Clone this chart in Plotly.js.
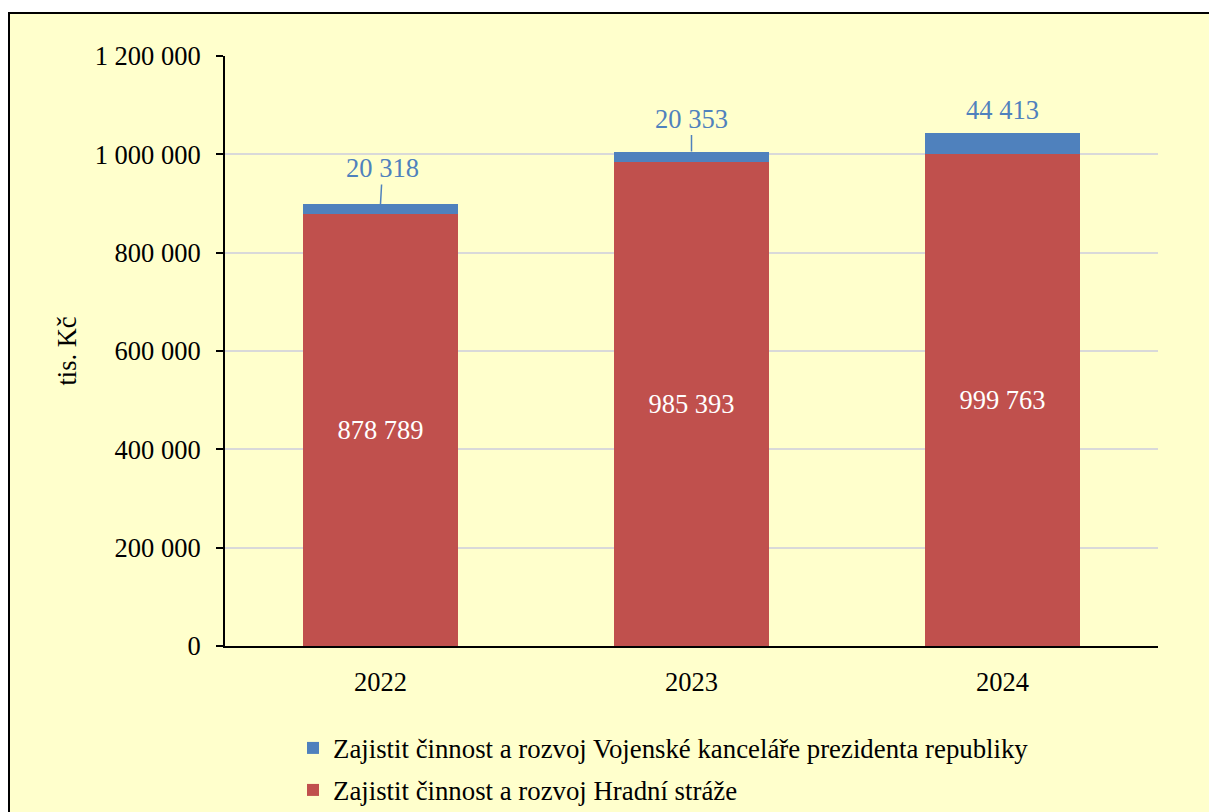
<!DOCTYPE html>
<html>
<head>
<meta charset="utf-8">
<script src="https://cdn.plot.ly/plotly-3.0.1.min.js"></script>
<style>
  html, body { margin: 0; padding: 0; background: #ffffff; width: 1209px; height: 812px; overflow: hidden; }
  #frame { position: absolute; left: 8px; top: 12px; width: 1220px; height: 820px; background: #FFFFCC; border: 2px solid #000; box-sizing: border-box; }
  #chart { position: absolute; left: 0; top: 0; width: 1209px; height: 812px; }
</style>
</head>
<body>
<div id="frame"></div>
<div id="chart"></div>
<script>
const years = ['2022', '2023', '2024'];
const hradniStraz = [878789, 985393, 999763];
const vojenskaKancelar = [20318, 20353, 44413];
const seriesNames = [
  'Zajistit činnost a rozvoj Hradní stráže',
  'Zajistit činnost a rozvoj Vojenské kanceláře prezidenta republiky'
];
const yTicks = [0, 200000, 400000, 600000, 800000, 1000000, 1200000];

const fmt = v => String(v).replace(/\B(?=(\d{3})+(?!\d))/g, ' ');
const FONT = 'Liberation Serif';
const FS = 26.5;
const RED = '#C0504D', BLUE = '#4F81BD';

const traces = [
  {
    type: 'bar', x: years, y: hradniStraz, name: seriesNames[0],
    marker: { color: RED }, legend: 'legend2',
    text: hradniStraz.map(fmt), textposition: 'inside', insidetextanchor: 'middle',
    textfont: { family: FONT, size: FS, color: '#ffffff' }, textangle: 0
  },
  {
    type: 'bar', x: years, y: vojenskaKancelar, name: seriesNames[1],
    marker: { color: BLUE }, legend: 'legend'
  }
];

const totals = years.map((_, i) => hradniStraz[i] + vojenskaKancelar[i]);
const labelOffsets = [[2, -36, true], [0, -33, true], [0, -23, false]];
const annotations = years.map((yr, i) => ({
  x: i, y: totals[i], xref: 'x', yref: 'y',
  text: fmt(vojenskaKancelar[i]),
  font: { family: FONT, size: FS, color: BLUE },
  showarrow: labelOffsets[i][2],
  arrowhead: 0, arrowwidth: 1.5, arrowcolor: BLUE,
  ax: labelOffsets[i][0], ay: labelOffsets[i][1],
  xshift: labelOffsets[i][2] ? 0 : labelOffsets[i][0],
  yshift: labelOffsets[i][2] ? 0 : -labelOffsets[i][1]
}));

const legendBase = {
  orientation: 'v', x: 0.0729, xanchor: 'left', yanchor: 'top',
  bgcolor: 'rgba(0,0,0,0)', font: { family: FONT, size: 26.8, color: '#000' }
};

const layout = {
  width: 1209, height: 812,
  margin: { l: 225, r: 51, t: 56, b: 166, autoexpand: false },
  paper_bgcolor: 'rgba(0,0,0,0)', plot_bgcolor: 'rgba(0,0,0,0)',
  barmode: 'stack', bargap: 0.5,
  font: { family: FONT, size: FS, color: '#000' },
  xaxis: {
    type: 'category', showline: true, linecolor: '#000', linewidth: 2,
    ticks: 'outside', ticklen: 11, tickcolor: 'rgba(0,0,0,0)', showgrid: false,
    tickfont: { family: FONT, size: FS, color: '#000' }
  },
  yaxis: {
    range: [0, 1200000], tickmode: 'array', tickvals: yTicks, ticktext: yTicks.map(fmt),
    showline: true, linecolor: '#000', linewidth: 2,
    ticks: 'outside', ticklen: 7, tickwidth: 2, tickcolor: '#000',
    ticklabelstandoff: 10,
    showgrid: true, gridcolor: '#D9D9D9', gridwidth: 2, zeroline: false,
    tickfont: { family: FONT, size: FS, color: '#000' },
    title: { text: 'tis. Kč', standoff: 10, font: { family: FONT, size: FS, color: '#000' } }
  },
  showlegend: true,
  legend: Object.assign({}, legendBase, { y: -0.1322 }),
  legend2: Object.assign({}, legendBase, { y: -0.2034 }),
  annotations: annotations
};

Plotly.newPlot('chart', traces, layout, { displayModeBar: false, staticPlot: true });
</script>
</body>
</html>
